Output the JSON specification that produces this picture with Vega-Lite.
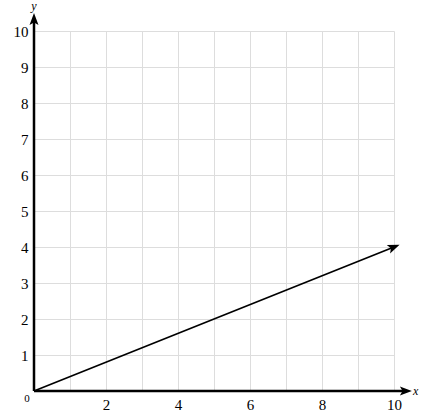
{
  "$schema": "https://vega.github.io/schema/vega-lite/v6.json",
  "width": 360,
  "height": 360,
  "autosize": {"type": "none"},
  "padding": {"left": 34, "top": 31, "right": 29, "bottom": 26},
  "background": "white",
  "config": {"view": {"stroke": null}},
  "datasets": {
    "xaxis": [{"x": 0, "y": 0}, {"x": 10.33, "y": 0}],
    "yaxis": [{"x": 0, "y": 0}, {"x": 0, "y": 10.33}],
    "vector": [{"x": 0, "y": 0}, {"x": 10, "y": 4}],
    "labels": [
      {"x": 0, "y": 10.33, "text": "y"},
      {"x": 10.33, "y": 0, "text": "x"},
      {"x": 0, "y": 0, "text": "0"}
    ]
  },
  "encoding": {
    "x": {
      "field": "x", "type": "quantitative",
      "scale": {"domain": [0, 10], "nice": false},
      "axis": {
        "values": [0, 1, 2, 3, 4, 5, 6, 7, 8, 9, 10],
        "grid": true, "gridColor": "#dddddd", "gridWidth": 1,
        "domain": false, "ticks": false, "title": null,
        "labelExpr": "datum.value > 0 && datum.value % 2 == 0 ? datum.label : ''",
        "labelFont": "Liberation Serif", "labelFontSize": 15, "labelColor": "black",
        "labelPadding": 6, "labelFlush": false, "labelOverlap": false
      }
    },
    "y": {
      "field": "y", "type": "quantitative",
      "scale": {"domain": [0, 10], "nice": false},
      "axis": {
        "values": [0, 1, 2, 3, 4, 5, 6, 7, 8, 9, 10],
        "grid": true, "gridColor": "#dddddd", "gridWidth": 1,
        "domain": false, "ticks": false, "title": null,
        "labelExpr": "datum.value > 0 ? datum.label : ''",
        "labelFont": "Liberation Serif", "labelFontSize": 15, "labelColor": "black",
        "labelPadding": 6, "labelFlush": false, "labelOverlap": false
      }
    }
  },
  "layer": [
    {
      "data": {"name": "xaxis"},
      "mark": {"type": "line", "color": "black", "strokeWidth": 2.5}
    },
    {
      "data": {"name": "yaxis"},
      "mark": {"type": "line", "color": "black", "strokeWidth": 2.5}
    },
    {
      "data": {"name": "vector"},
      "mark": {"type": "line", "color": "black", "strokeWidth": 1.8}
    },
    {
      "data": {"name": "xaxis"},
      "transform": [{"filter": "datum.x > 0"}],
      "mark": {"type": "point", "shape": "M1,0 L-1,-0.75 L-0.55,0 L-1,0.75 Z", "size": 144, "filled": true, "color": "black", "opacity": 1, "angle": 0}
    },
    {
      "data": {"name": "yaxis"},
      "transform": [{"filter": "datum.y > 0"}],
      "mark": {"type": "point", "shape": "M1,0 L-1,-0.75 L-0.55,0 L-1,0.75 Z", "size": 144, "filled": true, "color": "black", "opacity": 1, "angle": 270}
    },
    {
      "data": {"name": "vector"},
      "transform": [{"filter": "datum.x > 0"}],
      "mark": {"type": "point", "shape": "M1,0 L-1,-0.75 L-0.55,0 L-1,0.75 Z", "size": 144, "filled": true, "color": "black", "opacity": 1, "angle": 338.2}
    },
    {
      "data": {"name": "labels"},
      "transform": [{"filter": "datum.text == 'y'"}],
      "mark": {"type": "text", "font": "Liberation Serif", "fontStyle": "italic", "fontSize": 12, "align": "center", "baseline": "middle", "dy": -13, "color": "black"},
      "encoding": {"text": {"field": "text"}}
    },
    {
      "data": {"name": "labels"},
      "transform": [{"filter": "datum.text == 'x'"}],
      "mark": {"type": "text", "font": "Liberation Serif", "fontStyle": "italic", "fontSize": 12, "align": "left", "baseline": "middle", "dx": 7, "dy": 0, "color": "black"},
      "encoding": {"text": {"field": "text"}}
    },
    {
      "data": {"name": "labels"},
      "transform": [{"filter": "datum.text == '0'"}],
      "mark": {"type": "text", "font": "Liberation Serif", "fontSize": 11, "align": "center", "baseline": "middle", "dx": -7, "dy": 8, "color": "black"},
      "encoding": {"text": {"field": "text"}}
    }
  ]
}
